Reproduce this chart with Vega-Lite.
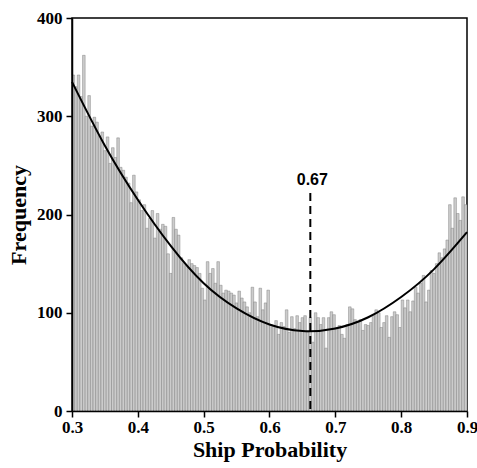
{
  "$schema": "https://vega.github.io/schema/vega-lite/v6.json",
  "width": 395,
  "height": 393,
  "autosize": "none",
  "padding": {"left": 72, "top": 18, "right": 10, "bottom": 57},
  "background": "white",
  "config": {
    "view": {"stroke": "black", "strokeWidth": 1.5},
    "axis": {"grid": false, "domainColor": "black", "domainWidth": 1.5, "tickColor": "black", "tickWidth": 1.5, "tickSize": 6,
      "labelFont": "Liberation Serif", "labelFontWeight": "bold", "labelFontSize": 17, "labelColor": "black",
      "titleFont": "Liberation Serif", "titleFontWeight": "bold", "titleFontSize": 22, "titleColor": "black"}
  },
  "datasets": {
    "hist": [
      {"lo":0.300,"n":342},{"lo":0.304,"n":330},{"lo":0.308,"n":342},{"lo":0.312,"n":320},{"lo":0.316,"n":362},
      {"lo":0.320,"n":300},{"lo":0.324,"n":321},{"lo":0.328,"n":290},{"lo":0.332,"n":299},{"lo":0.336,"n":294},
      {"lo":0.340,"n":280},{"lo":0.344,"n":284},{"lo":0.348,"n":265},{"lo":0.352,"n":279},{"lo":0.356,"n":252},
      {"lo":0.360,"n":268},{"lo":0.364,"n":258},{"lo":0.368,"n":278},{"lo":0.372,"n":248},{"lo":0.376,"n":245},
      {"lo":0.380,"n":238},{"lo":0.384,"n":232},{"lo":0.388,"n":212},{"lo":0.392,"n":240},{"lo":0.396,"n":223},
      {"lo":0.400,"n":215},{"lo":0.404,"n":204},{"lo":0.408,"n":210},{"lo":0.412,"n":186},{"lo":0.416,"n":196},
      {"lo":0.420,"n":204},{"lo":0.424,"n":176},{"lo":0.428,"n":201},{"lo":0.432,"n":185},{"lo":0.436,"n":190},
      {"lo":0.440,"n":188},{"lo":0.444,"n":160},{"lo":0.448,"n":140},{"lo":0.452,"n":197},{"lo":0.456,"n":185},
      {"lo":0.460,"n":179},{"lo":0.464,"n":156},{"lo":0.468,"n":150},{"lo":0.472,"n":148},{"lo":0.476,"n":154},
      {"lo":0.480,"n":150},{"lo":0.484,"n":148},{"lo":0.488,"n":146},{"lo":0.492,"n":140},{"lo":0.496,"n":125},
      {"lo":0.500,"n":113},{"lo":0.504,"n":152},{"lo":0.508,"n":140},{"lo":0.512,"n":145},{"lo":0.516,"n":130},
      {"lo":0.520,"n":152},{"lo":0.524,"n":128},{"lo":0.528,"n":120},{"lo":0.532,"n":123},{"lo":0.536,"n":122},
      {"lo":0.540,"n":120},{"lo":0.544,"n":118},{"lo":0.548,"n":110},{"lo":0.552,"n":122},{"lo":0.556,"n":115},
      {"lo":0.560,"n":111},{"lo":0.564,"n":106},{"lo":0.568,"n":100},{"lo":0.572,"n":126},{"lo":0.576,"n":111},
      {"lo":0.580,"n":96},{"lo":0.584,"n":125},{"lo":0.588,"n":103},{"lo":0.592,"n":110},{"lo":0.596,"n":123},
      {"lo":0.600,"n":88},{"lo":0.604,"n":86},{"lo":0.608,"n":92},{"lo":0.612,"n":78},{"lo":0.616,"n":90},
      {"lo":0.620,"n":86},{"lo":0.624,"n":103},{"lo":0.628,"n":80},{"lo":0.632,"n":96},{"lo":0.636,"n":84},
      {"lo":0.640,"n":97},{"lo":0.644,"n":90},{"lo":0.648,"n":95},{"lo":0.652,"n":97},{"lo":0.656,"n":80},
      {"lo":0.660,"n":95},{"lo":0.664,"n":70},{"lo":0.668,"n":100},{"lo":0.672,"n":95},{"lo":0.676,"n":88},
      {"lo":0.680,"n":95},{"lo":0.684,"n":64},{"lo":0.688,"n":95},{"lo":0.692,"n":101},{"lo":0.696,"n":98},
      {"lo":0.700,"n":85},{"lo":0.704,"n":87},{"lo":0.708,"n":78},{"lo":0.712,"n":74},{"lo":0.716,"n":88},
      {"lo":0.720,"n":106},{"lo":0.724,"n":104},{"lo":0.728,"n":93},{"lo":0.732,"n":90},{"lo":0.736,"n":93},
      {"lo":0.740,"n":82},{"lo":0.744,"n":88},{"lo":0.748,"n":87},{"lo":0.752,"n":90},{"lo":0.756,"n":98},
      {"lo":0.760,"n":103},{"lo":0.764,"n":100},{"lo":0.768,"n":85},{"lo":0.772,"n":90},{"lo":0.776,"n":97},
      {"lo":0.780,"n":75},{"lo":0.784,"n":96},{"lo":0.788,"n":101},{"lo":0.792,"n":98},{"lo":0.796,"n":85},
      {"lo":0.800,"n":113},{"lo":0.804,"n":105},{"lo":0.808,"n":113},{"lo":0.812,"n":101},{"lo":0.816,"n":112},
      {"lo":0.820,"n":126},{"lo":0.824,"n":120},{"lo":0.828,"n":130},{"lo":0.832,"n":138},{"lo":0.836,"n":111},
      {"lo":0.840,"n":123},{"lo":0.844,"n":143},{"lo":0.848,"n":140},{"lo":0.852,"n":150},{"lo":0.856,"n":161},
      {"lo":0.860,"n":156},{"lo":0.864,"n":165},{"lo":0.868,"n":174},{"lo":0.872,"n":210},{"lo":0.876,"n":186},
      {"lo":0.880,"n":217},{"lo":0.884,"n":201},{"lo":0.888,"n":194},{"lo":0.892,"n":218},{"lo":0.896,"n":210}
    ],
    "fit": [
      {"p":0.300,"f":335},{"p":0.350,"f":270},{"p":0.400,"f":215},{"p":0.450,"f":168},{"p":0.500,"f":130},
      {"p":0.550,"f":104.4},{"p":0.600,"f":88},{"p":0.650,"f":81.4},{"p":0.700,"f":84},{"p":0.750,"f":95.4},
      {"p":0.800,"f":116},{"p":0.850,"f":144.4},{"p":0.900,"f":182}
    ],
    "mark": [{"p":0.662,"top":222,"label":"0.67"}]
  },
  "layer": [
    {
      "data": {"name": "hist"},
      "transform": [{"calculate": "datum.lo + 0.004", "as": "hi"}],
      "mark": {"type": "bar", "fill": "#cccccc", "stroke": "#6e6e6e", "strokeWidth": 0.4},
      "encoding": {
        "x": {"field": "lo", "type": "quantitative", "scale": {"domain": [0.3, 0.9], "nice": false, "zero": false},
          "axis": {"zindex": 3, "values": [0.3,0.4,0.5,0.6,0.7,0.8,0.9], "format": ".1f", "title": "Ship Probability", "labelPadding": 2, "titlePadding": 4, "labelFlush": false}},
        "x2": {"field": "hi"},
        "y": {"field": "n", "type": "quantitative", "scale": {"domain": [0, 400], "nice": false},
          "axis": {"zindex": 3, "values": [0,100,200,300,400], "title": "Frequency", "labelPadding": 4, "titlePadding": 6}},
        "y2": {"datum": 0}
      }
    },
    {
      "data": {"name": "fit"},
      "mark": {"type": "line", "color": "black", "strokeWidth": 2, "interpolate": "natural"},
      "encoding": {
        "x": {"field": "p", "type": "quantitative"},
        "y": {"field": "f", "type": "quantitative"}
      }
    },
    {
      "data": {"name": "mark"},
      "mark": {"type": "rule", "color": "black", "strokeWidth": 2, "strokeDash": [8, 5]},
      "encoding": {
        "x": {"field": "p", "type": "quantitative"},
        "y": {"field": "top", "type": "quantitative"},
        "y2": {"datum": 0}
      }
    },
    {
      "data": {"name": "mark"},
      "mark": {"type": "text", "font": "Liberation Sans", "fontWeight": "bold", "fontSize": 16, "color": "black", "baseline": "bottom", "dy": -5, "dx": 2},
      "encoding": {
        "x": {"field": "p", "type": "quantitative"},
        "y": {"field": "top", "type": "quantitative"},
        "text": {"field": "label"}
      }
    }
  ]
}
